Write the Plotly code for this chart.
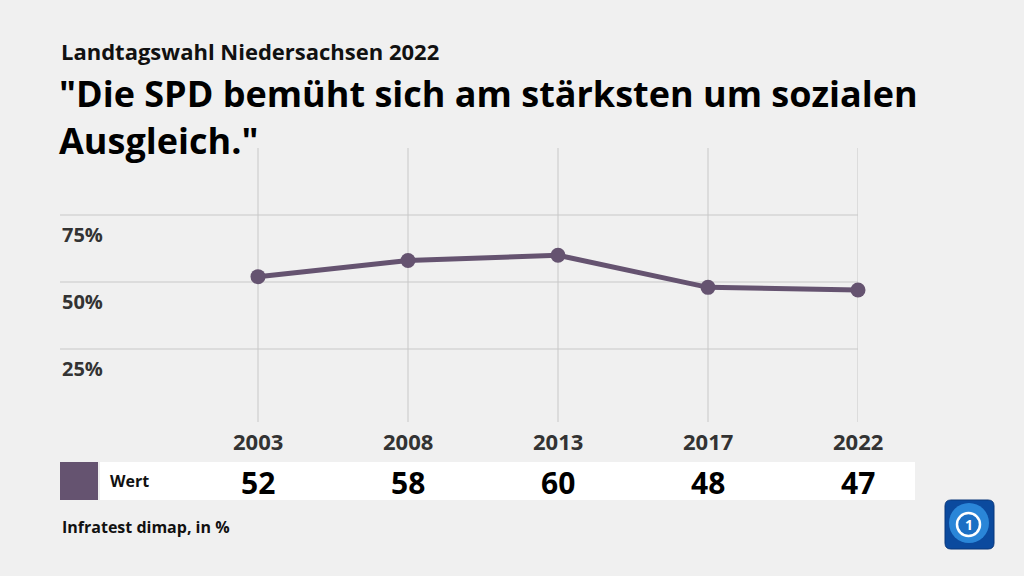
import plotly.graph_objects as go

years = ["2003", "2008", "2013", "2017", "2022"]
values = [52, 58, 60, 48, 47]
y_ticks = [25, 50, 75]
y_tick_labels = ["25%", "50%", "75%"]
series_name = "Wert"
subtitle = "Landtagswahl Niedersachsen 2022"
title = "\"Die SPD bemüht sich am stärksten um sozialen<br>Ausgleich.\""
source = "Infratest dimap, in %"

W, H = 1024, 576
L, R, T, B = 60, 858, 148, 416  # plot area in pixels
COLOR = "#655370"
FONT = "Open Sans"


def px(x):
    return (x - L) / (R - L)


def py(y):
    return (B - y) / (B - T)


def rounded_rect(x0, y0, x1, y1, r):
    pts = [
        f"M {px(x0 + r)},{py(y0)}",
        f"L {px(x1 - r)},{py(y0)}",
        f"Q {px(x1)},{py(y0)} {px(x1)},{py(y0 + r)}",
        f"L {px(x1)},{py(y1 - r)}",
        f"Q {px(x1)},{py(y1)} {px(x1 - r)},{py(y1)}",
        f"L {px(x0 + r)},{py(y1)}",
        f"Q {px(x0)},{py(y1)} {px(x0)},{py(y1 - r)}",
        f"L {px(x0)},{py(y0 + r)}",
        f"Q {px(x0)},{py(y0)} {px(x0 + r)},{py(y0)}",
        "Z",
    ]
    return " ".join(pts)


xs = list(range(len(years)))
x_left = -(258 - L) / 150.0

fig = go.Figure()
fig.add_trace(go.Scatter(
    x=xs, y=values, mode="lines+markers",
    line=dict(color=COLOR, width=5),
    marker=dict(color=COLOR, size=15),
    cliponaxis=False,
    hoverinfo="skip", showlegend=False,
))

shapes = []
for v in y_ticks:
    shapes.append(dict(type="line", xref="paper", yref="y", x0=0, x1=1, y0=v, y1=v,
                       line=dict(color="#c8c8c8", width=1), layer="below"))
for i in xs:
    shapes.append(dict(type="line", xref="x", yref="paper", x0=i, x1=i, y0=py(422), y1=1,
                       line=dict(color="#c8c8c8", width=1), layer="below"))
shapes.append(dict(type="rect", xref="paper", yref="paper", x0=px(100), x1=px(915),
                   y0=py(500), y1=py(462), fillcolor="white", line=dict(width=0), layer="below"))
shapes.append(dict(type="rect", xref="paper", yref="paper", x0=px(60), x1=px(98),
                   y0=py(500), y1=py(462), fillcolor=COLOR, line=dict(width=0), layer="below"))
# logo
shapes.append(dict(type="path", xref="paper", yref="paper", path=rounded_rect(945, 500, 994, 549, 6),
                   fillcolor="#0b4a9e", line=dict(color="#08367a", width=1)))
shapes.append(dict(type="circle", xref="paper", yref="paper", x0=px(949), x1=px(989),
                   y0=py(543), y1=py(503), fillcolor="#2a86d8", line=dict(width=0)))
shapes.append(dict(type="circle", xref="paper", yref="paper", x0=px(957), x1=px(980),
                   y0=py(536), y1=py(513), fillcolor="#1b6fc4", line=dict(color="white", width=2.5)))

ann = []
ann.append(dict(text=subtitle, xref="paper", yref="paper", x=px(59), y=py(51), xanchor="left",
                yanchor="middle", showarrow=False,
                font=dict(family=FONT, size=22, color="#111", weight=700)))
ann.append(dict(text=title, xref="paper", yref="paper", x=px(57), y=py(117), xanchor="left",
                yanchor="middle", showarrow=False, align="left",
                font=dict(family=FONT, size=36, color="#000", weight=700)))
for v, t in zip(y_ticks, y_tick_labels):
    ann.append(dict(text=t, xref="paper", yref="y", x=0, y=v, xanchor="left", yanchor="top",
                    yshift=-4, showarrow=False,
                    font=dict(family=FONT, size=20, color="#333", weight=700)))
for i, yr in enumerate(years):
    ann.append(dict(text=yr, xref="x", yref="paper", x=i, y=py(441), xanchor="center",
                    yanchor="middle", showarrow=False,
                    font=dict(family=FONT, size=22, color="#333", weight=700)))
    ann.append(dict(text=str(values[i]), xref="x", yref="paper", x=i, y=py(482), xanchor="center",
                    yanchor="middle", showarrow=False,
                    font=dict(family=FONT, size=30, color="#000", weight=700)))
ann.append(dict(text=series_name, xref="paper", yref="paper", x=px(108), y=py(481), xanchor="left",
                yanchor="middle", showarrow=False,
                font=dict(family=FONT, size=16, color="#111", weight=700)))
ann.append(dict(text=source, xref="paper", yref="paper", x=px(60), y=py(527), xanchor="left",
                yanchor="middle", showarrow=False,
                font=dict(family=FONT, size=16, color="#111", weight=700)))
ann.append(dict(text="1", xref="paper", yref="paper", x=px(968.5), y=py(524.5), xanchor="center",
                yanchor="middle", showarrow=False,
                font=dict(family=FONT, size=14, color="white", weight=700)))

fig.update_layout(
    width=W, height=H,
    margin=dict(l=L, r=W - R, t=T, b=H - B, pad=0),
    paper_bgcolor="#f0f0f0", plot_bgcolor="#f0f0f0",
    xaxis=dict(range=[x_left, 4], showgrid=False, zeroline=False, showticklabels=False,
               showline=False, fixedrange=True),
    yaxis=dict(range=[0, 100], showgrid=False, zeroline=False, showticklabels=False,
               showline=False, fixedrange=True),
    shapes=shapes, annotations=ann, showlegend=False,
)

fig.write_html(
    "out.html",
    config={"displayModeBar": False},
    post_script="document.body.style.margin='0';document.body.style.background='#f0f0f0';",
)
